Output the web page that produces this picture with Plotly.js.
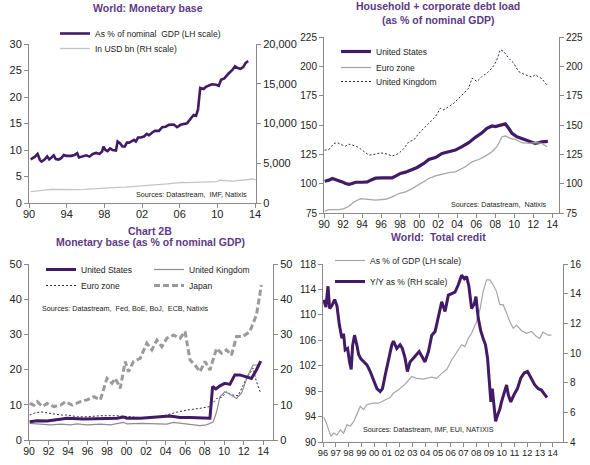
<!DOCTYPE html>
<html>
<head>
<meta charset="utf-8">
<script src="https://cdn.plot.ly/plotly-3.0.1.min.js"></script>
<style>html,body{margin:0;padding:0;background:#fff;}#chart{width:590px;height:465px;}</style>
</head>
<body>
<div id="chart"></div>
<script>
// ---------- Panel 1: World monetary base ----------
var mbYears = [1990.18,1990.63,1990.91,1991.16,1991.33,1991.68,1991.93,1992.14,1992.39,1992.63,1992.84,1993.16,1993.44,1993.69,1993.97,1994.49,1994.84,1995.12,1995.30,1995.72,1996.07,1996.42,1996.77,1997.13,1997.48,1997.76,1997.90,1998.11,1998.35,1998.60,1998.88,1999.23,1999.41,1999.65,1999.93,2000.18,2000.39,2000.64,2000.92,2001.16,2001.34,2001.58,2001.86,2002.21,2002.50,2002.74,2003.09,2003.37,2003.79,2004.15,2004.50,2004.85,2005.37,2005.72,2006.08,2006.43,2006.78,2007.20,2007.48,2007.73,2007.94,2008.18,2008.53,2008.78,2009.13,2009.41,2009.87,2010.15,2010.39,2010.74,2011.17,2011.59,2011.87,2012.11,2012.46,2012.74,2012.99,2013.27];
var mbPctGdp = [8.25,8.75,9.26,8.1,7.8,8.25,8.8,8.25,8.6,9.0,8.3,8.2,8.5,9.07,8.9,8.9,9.07,9.4,8.6,8.9,9.0,8.75,9.26,9.45,9.26,9.7,10.65,10.0,9.8,10.3,10.0,9.9,11.6,11.3,10.65,10.65,11.4,11.4,11.65,11.9,11.6,12.35,12.35,12.55,13.05,12.8,13.3,13.6,13.6,14.3,14.4,14.75,14.8,14.3,14.75,14.9,15.05,16.0,16.6,16.45,17.6,21.7,21.5,21.9,22.1,22.4,22.3,22.1,23.25,23.5,24.4,25.1,25.8,25.5,25.3,25.65,26.4,26.8];
var mbUsdYears = [1990.18,1990.9,1991.6,1992.39,1993.2,1994.14,1995.0,1995.90,1996.8,1997.65,1998.5,1999.41,2000.3,2001.16,2002.0,2002.92,2003.8,2004.67,2005.2,2005.72,2006.3,2006.78,2007.5,2008.18,2009.0,2009.94,2010.29,2011.0,2011.69,2012.4,2013.10,2013.80,2014.08];
var mbUsdBn = [1430,1500,1600,1720,1700,1640,1680,1720,1800,1890,1920,1975,2000,2060,2150,2230,2320,2400,2480,2560,2600,2560,2600,2560,2620,2690,2860,2780,2760,2850,2900,3020,2900];

// ---------- Panel 2: Household + corporate debt ----------
var debtUsYears = [1990.07,1990.52,1990.87,1991.22,1991.57,1991.92,1992.27,1992.62,1992.97,1993.32,1994.02,1994.55,1994.90,1995.42,1996.12,1997.17,1997.52,1998.04,1998.57,1999.27,1999.79,2000.49,2001.01,2001.71,2002.41,2003.11,2003.81,2004.51,2005.21,2005.91,2006.61,2007.13,2007.66,2008.01,2008.53,2009.06,2009.41,2009.76,2010.28,2010.80,2011.33,2011.85,2012.20,2012.55,2012.90,2013.53];
var debtUs = [102.1,103,104.4,103.5,102.7,101.5,100.1,99.5,100.1,101.2,101.2,101.5,103,104.7,105,105,106.4,108.7,109.8,112.1,113.8,117.2,120.6,122.3,125.8,127.2,128.6,131.5,134.9,139.5,143.4,147.2,149.2,148.6,150,150.9,147.2,142.9,140.0,138.3,136.6,135.2,134.3,134.9,135.7,136];
var debtEzYears = [1990.07,1990.52,1991.57,1992.10,1992.62,1993.15,1993.85,1994.55,1995.42,1996.47,1997.17,1997.87,1998.57,1999.27,2000.14,2001.01,2001.71,2002.41,2003.11,2003.81,2004.34,2004.86,2005.56,2006.26,2006.96,2007.66,2008.18,2008.71,2009.06,2009.58,2010.10,2010.80,2011.50,2012.20,2012.90,2013.43];
var debtEz = [76.7,77.9,77.9,78.7,80.7,84.4,87.3,86.7,85.9,86.7,88.7,91.6,93,95.8,100.1,104.4,106.7,108.1,109.5,110.1,112.1,114.4,118.6,120.6,123.5,127.2,131.5,140,140.6,138.6,137.7,134.9,134.3,134.9,134.3,131.5];
var debtUkYears = [1990.07,1990.52,1991.05,1991.40,1991.92,1992.27,1992.62,1992.97,1993.50,1994.02,1994.72,1995.42,1995.94,1996.64,1997.17,1997.87,1998.39,1998.92,1999.44,1999.97,2000.66,2001.19,2001.71,2002.24,2002.59,2003.11,2003.64,2004.16,2004.69,2005.21,2005.56,2006.08,2006.61,2007.13,2007.66,2008.11,2008.53,2008.88,2009.41,2009.93,2010.45,2011.15,2011.85,2012.20,2012.90,2013.43];
var debtUk = [128.6,129.2,134.3,134.9,132.9,132,133.7,132.9,131.5,128.6,124.3,125.2,126.3,125.2,123.5,125.8,130,135.8,137.2,142.9,148.6,152.9,157.1,164.3,162.9,165.7,168.5,172.8,177.1,181.4,189.9,187.1,191.4,194.2,198.5,204.2,214.2,212.7,207,202.8,195.6,192.8,190.8,192.8,189.4,184.2];

// ---------- Panel 3: Monetary base by country ----------
var mbUsYears = [1990.07,1990.85,1991.87,1992.89,1993.91,1995.61,1997.31,1999.01,1999.69,2000.03,2001.39,2002.41,2003.44,2004.46,2005.48,2006.50,2007.52,2008.20,2008.54,2008.81,2009.15,2009.56,2010.07,2010.58,2011.09,2011.60,2012.28,2012.79,2013.30,2013.74];
var mbUs = [5.2,5.5,5.4,5.9,6.2,6.0,6.0,6.2,6.5,6.2,6.2,6.5,6.6,6.8,6.4,6.4,6.3,6.3,6.2,15.2,14.5,15.4,16.1,15.8,18.5,18.5,18.0,17.5,19.9,22.4];
var mbUkYears = [1990.07,1991.19,1992.21,1993.23,1994.25,1994.93,1995.95,1997.31,1998.33,1999.69,2000.03,2001.39,2002.76,2004.12,2004.80,2005.82,2006.84,2007.52,2008.20,2008.88,2009.22,2009.56,2010.07,2010.58,2011.26,2011.77,2012.45,2012.96,2013.47,2013.74];
var mbUk = [4.7,4.5,4.3,4.5,4.3,4.6,4.3,4.5,4.3,5.0,4.6,4.7,4.5,4.5,5.0,4.6,4.3,4.1,4.3,5.2,8.0,12.3,13.7,13.0,11.8,13.3,18.5,21.3,21.3,22.3];
var mbEzYears = [1990.07,1990.51,1991.19,1992.21,1993.23,1993.91,1994.93,1995.95,1997.31,1999.01,2000.71,2001.73,2003.10,2004.12,2005.14,2006.16,2007.52,2008.54,2009.22,2009.73,2010.24,2010.75,2011.43,2012.28,2012.96,2013.30,2013.74];
var mbEz = [7.1,7.6,8.0,7.6,7.1,7.1,6.6,6.6,6.9,6.9,6.6,6.3,6.6,7.1,7.9,8.5,9.0,9.5,11.8,12.1,13.7,12.8,12.6,17.5,20.4,16.6,13.3];
var mbJpYears = [1990.07,1990.51,1990.85,1991.36,1991.87,1992.55,1993.23,1993.74,1994.42,1995.27,1995.95,1996.63,1997.31,1997.99,1998.50,1998.84,1999.35,1999.86,2000.20,2000.71,2001.39,2002.07,2002.59,2003.10,2003.61,2004.12,2004.80,2005.48,2005.99,2006.50,2007.01,2007.52,2008.03,2008.54,2009.22,2009.73,2010.24,2010.75,2011.26,2011.94,2012.62,2013.30,2013.81];
var mbJp = [10.4,9.9,10.9,9.5,10.4,9.5,9.9,10.9,9.9,10.9,11.4,12.3,11.4,17.5,16.1,17.5,14.7,22.3,19.4,22.3,23.2,27.5,25.6,28.4,26.5,28.9,29.8,28.9,30.8,22.7,21.3,19.4,22.3,19.9,26.0,24.6,25.6,24.1,29.4,29.4,30.8,35.5,44.0];

// ---------- Panel 4: World total credit ----------
var tcGdpYears = [1996.05,1996.23,1996.44,1996.63,1996.83,1997.09,1997.35,1997.61,1997.88,1998.14,1998.40,1998.66,1998.92,1999.18,1999.44,1999.96,2000.35,2000.74,2001.26,2001.52,2001.91,2002.43,2002.95,2003.34,2003.86,2004.52,2004.91,2005.30,2005.69,2006.08,2006.47,2006.86,2007.12,2007.38,2007.64,2008.03,2008.29,2008.55,2008.81,2009.07,2009.33,2009.59,2009.85,2010.11,2010.38,2010.64,2010.90,2011.16,2011.55,2011.94,2012.33,2012.72,2012.98,2013.24,2013.63,2013.89];
var tcGdp = [93.9,93.2,91.9,90.9,91.4,91.1,91.9,91.4,92.7,92.5,93.2,94.3,95.6,95.1,95.9,96.1,96.1,96.5,97.0,97.7,98.2,99.1,100.3,100.0,99.9,100.2,100.0,100.8,101.4,102.9,104.0,105.3,105.0,106.3,107.1,108.9,110.8,113.7,115.5,115.5,114.7,113.7,111.6,111.6,110.3,108.9,107.9,108.4,107.5,107.1,107.4,106.6,106.3,107.3,106.8,106.8];
var tcYoyYears = [1996.05,1996.23,1996.39,1996.52,1996.70,1996.91,1997.09,1997.28,1997.48,1997.61,1997.74,1997.93,1998.08,1998.21,1998.32,1998.47,1998.66,1998.79,1998.97,1999.18,1999.44,1999.70,1999.96,2000.22,2000.48,2000.66,2000.87,2001.13,2001.39,2001.52,2001.78,2002.04,2002.22,2002.43,2002.61,2002.82,2003.08,2003.34,2003.53,2003.73,2003.99,2004.26,2004.52,2004.78,2005.04,2005.30,2005.56,2005.82,2006.08,2006.34,2006.60,2006.86,2007.07,2007.25,2007.43,2007.64,2007.85,2007.98,2008.16,2008.37,2008.58,2008.73,2008.89,2009.02,2009.15,2009.26,2009.41,2009.52,2009.67,2009.85,2009.98,2010.19,2010.38,2010.51,2010.71,2010.97,2011.23,2011.49,2011.76,2012.02,2012.28,2012.59,2012.85,2013.11,2013.37,2013.55];
var tcYoy = [13.58,13.1,14.5,13.0,13.2,13.6,13.2,11.9,11.0,11.3,10.2,10.3,9.4,8.9,10.5,11.2,10.5,9.9,9.6,9.4,9.2,8.75,8.1,7.6,7.4,7.6,8.5,9.65,10.55,10.8,10.3,10.55,10.3,9.65,8.75,9.4,9.65,9.9,10.1,9.8,9.4,10.1,11.2,11.45,12.35,13.45,12.8,13.9,14.0,14.1,14.6,15.25,15.0,15.15,14.5,13.0,13.3,13.8,12.35,11.45,10.9,10.55,9.65,7.85,6.7,7.6,6.1,5.4,5.8,6.2,6.7,7.3,7.85,7.2,6.7,7.2,7.6,8.3,8.65,8.75,8.3,7.85,7.6,7.5,7.2,7.0];

// tick labels
var ticks4yVals = [1990,1994,1998,2002,2006,2010,2014];
var ticks4yText = ['90','94','98','02','06','10','14'];
var ticks2yVals = [1990,1992,1994,1996,1998,2000,2002,2004,2006,2008,2010,2012,2014];
var ticks2yText = ['90','92','94','96','98','00','02','04','06','08','10','12','14'];
var ticks1yVals = [1996,1997,1998,1999,2000,2001,2002,2003,2004,2005,2006,2007,2008,2009,2010,2011,2012,2013,2014];
var ticks1yText = ['96','97','98','99','00','01','02','03','04','05','06','07','08','09','10','11','12','13','14'];

var PURPLE = '#421a66', GREY = '#a6a6a6', LGREY = '#c4c4c4', TITLE = '#5e3a86';
var FONT = 'Liberation Sans, Arial, sans-serif';
function px(x){return x/590;} function py(y){return 1 - y/465;}

var traces = [
  {x: mbYears, y: mbPctGdp, xaxis:'x', yaxis:'y', name:'As % of nominal  GDP (LH scale)', mode:'lines', line:{color:PURPLE, width:2.6}, legend:'legend'},
  {x: mbUsdYears, y: mbUsdBn, xaxis:'x', yaxis:'y2', name:'In USD bn (RH scale)', mode:'lines', line:{color:LGREY, width:1.3}, legend:'legend2'},

  {x: debtUkYears, y: debtUk, xaxis:'x2', yaxis:'y3', name:'United Kingdom', mode:'lines', line:{color:'#3a2450', width:1, dash:'2px,2px'}, legend:'legend5'},
  {x: debtEzYears, y: debtEz, xaxis:'x2', yaxis:'y4', name:'Euro zone', mode:'lines', line:{color:GREY, width:1.3}, legend:'legend4'},
  {x: debtUsYears, y: debtUs, xaxis:'x2', yaxis:'y3', name:'United States', mode:'lines', line:{color:PURPLE, width:3.2}, legend:'legend3'},

  {x: mbJpYears, y: mbJp, xaxis:'x3', yaxis:'y6', name:'Japan', mode:'lines', line:{color:'#9a9a9a', width:3, dash:'6px,3px'}, legend:'legend9'},
  {x: mbEzYears, y: mbEz, xaxis:'x3', yaxis:'y5', name:'Euro zone', mode:'lines', line:{color:'#3a2450', width:1, dash:'2px,2px'}, legend:'legend7'},
  {x: mbUkYears, y: mbUk, xaxis:'x3', yaxis:'y5', name:'United Kingdom', mode:'lines', line:{color:'#8c8c8c', width:1.2}, legend:'legend8'},
  {x: mbUsYears, y: mbUs, xaxis:'x3', yaxis:'y5', name:'United States', mode:'lines', line:{color:PURPLE, width:3}, legend:'legend6'},

  {x: tcGdpYears, y: tcGdp, xaxis:'x4', yaxis:'y7', name:'As % of GDP (LH scale)', mode:'lines', line:{color:GREY, width:1.2}, legend:'legend10'},
  {x: tcYoyYears, y: tcYoy, xaxis:'x4', yaxis:'y8', name:'Y/Y as % (RH scale)', mode:'lines', line:{color:PURPLE, width:3}, legend:'legend11'}
];

var axBase = {showgrid:false, zeroline:false, showline:true, linecolor:'#8a8a8a', linewidth:1, ticks:'outside', ticklen:4, tickcolor:'#8a8a8a', tickfont:{family:FONT, size:11, color:'#222'}, fixedrange:true};
function ax(o){var r={}; for(var k in axBase) r[k]=axBase[k]; for(var k2 in o) r[k2]=o[k2]; return r;}
var smallTick = {family:FONT, size:10, color:'#222'};

var legBase = {bgcolor:'rgba(0,0,0,0)', borderwidth:0, font:{family:FONT, size:8.5, color:'#222'}, xanchor:'left', yanchor:'top', itemclick:false, itemdoubleclick:false};
function leg(xText, yCenter){var r={}; for(var k in legBase) r[k]=legBase[k]; r.x = px(xText - 40); r.y = py(yCenter - 14); return r;}

var titleFont = {family:FONT, size:10.5, color:TITLE};
var srcFont = {family:FONT, size:7.2, color:'#222'};

var layout = {
  width:590, height:465, margin:{l:0,r:0,t:0,b:0}, paper_bgcolor:'#fff', plot_bgcolor:'#fff',
  showlegend:true, hovermode:false, separators:'.,',
  font:{family:FONT, size:11, color:'#222'},
  // Panel 1
  xaxis: ax({domain:[px(29),px(256)], anchor:'y', range:[1990,2014.1], tickvals:ticks4yVals, ticktext:ticks4yText, tickangle:0, ticklabelstandoff:-3}),
  yaxis: ax({domain:[py(203),py(44)], anchor:'x', range:[0,30], dtick:5, tick0:0}),
  yaxis2: ax({overlaying:'y', side:'right', anchor:'x', range:[0,20000], dtick:5000, tick0:0, tickformat:',d'}),
  // Panel 2
  xaxis2: ax({domain:[px(324),px(559)], anchor:'y3', range:[1990,2014.7], tickvals:ticks2yVals, ticktext:ticks2yText, tickfont:{family:FONT,size:10.5,color:'#222'}, tickangle:0, ticklabelstandoff:-3}),
  yaxis3: ax({domain:[py(213),py(37)], anchor:'x2', range:[75,225], dtick:25, tick0:75, tickfont:smallTick}),
  yaxis4: ax({overlaying:'y3', side:'right', anchor:'x2', range:[75,225], dtick:25, tick0:75, tickfont:smallTick}),
  // Panel 3
  xaxis3: ax({domain:[px(29),px(273)], anchor:'y5', range:[1990,2015], tickvals:ticks2yVals, ticktext:ticks2yText, tickfont:{family:FONT,size:10.5,color:'#222'}, tickangle:0, ticklabelstandoff:-3}),
  yaxis5: ax({domain:[py(440),py(264)], anchor:'x3', range:[0,50], dtick:10, tick0:0}),
  yaxis6: ax({overlaying:'y5', side:'right', anchor:'x3', range:[0,50], dtick:10, tick0:0}),
  // Panel 4
  xaxis4: ax({domain:[px(323),px(563)], anchor:'y7', range:[1996,2014.8], tickvals:ticks1yVals, ticktext:ticks1yText, tickfont:{family:FONT,size:9.3,color:'#222'}, tickangle:0, ticklabelstandoff:-2}),
  yaxis7: ax({domain:[py(442),py(264)], anchor:'x4', range:[90,118], dtick:4, tick0:90, tickfont:smallTick}),
  yaxis8: ax({overlaying:'y7', side:'right', anchor:'x4', range:[4,16], dtick:2, tick0:4, tickfont:smallTick}),

  legend: leg(95, 33),
  legend2: leg(95, 48),
  legend3: leg(376, 51),
  legend4: leg(376, 67),
  legend5: leg(376, 81),
  legend6: leg(81, 269),
  legend7: leg(81, 285),
  legend8: leg(189, 269),
  legend9: leg(189, 285),
  legend10: leg(370, 260),
  legend11: leg(370, 281),

  annotations: [
    {xref:'paper', yref:'paper', x:px(148), y:py(8), xanchor:'center', yanchor:'middle', showarrow:false, text:'<b>World: Monetary base</b>', font:titleFont},
    {xref:'paper', yref:'paper', x:px(438), y:py(6), xanchor:'center', yanchor:'middle', showarrow:false, text:'<b>Household + corporate debt load</b>', font:titleFont},
    {xref:'paper', yref:'paper', x:px(438), y:py(20), xanchor:'center', yanchor:'middle', showarrow:false, text:'<b>(as % of nominal GDP)</b>', font:titleFont},
    {xref:'paper', yref:'paper', x:px(150), y:py(231), xanchor:'center', yanchor:'middle', showarrow:false, text:'<b>Chart 2B</b>', font:titleFont},
    {xref:'paper', yref:'paper', x:px(150), y:py(242), xanchor:'center', yanchor:'middle', showarrow:false, text:'<b>Monetary base (as % of nominal GDP)</b>', font:titleFont},
    {xref:'paper', yref:'paper', x:px(438), y:py(237), xanchor:'center', yanchor:'middle', showarrow:false, text:'<b>World:  Total credit</b>', font:titleFont},
    {xref:'paper', yref:'paper', x:px(249), y:py(194), xanchor:'right', yanchor:'middle', showarrow:false, text:'Sources: Datastream,  IMF, Natixis', font:srcFont},
    {xref:'paper', yref:'paper', x:px(548), y:py(204), xanchor:'right', yanchor:'middle', showarrow:false, text:'Sources: Datastream,  Natixis', font:srcFont},
    {xref:'paper', yref:'paper', x:px(40), y:py(308), xanchor:'left', yanchor:'middle', showarrow:false, text:'Sources: Datastream,  Fed, BoE, BoJ,  ECB, Natixis', font:srcFont},
    {xref:'paper', yref:'paper', x:px(361), y:py(429), xanchor:'left', yanchor:'middle', showarrow:false, text:'Sources: Datastream, IMF, EUI, NATIXIS', font:srcFont}
  ]
};

Plotly.newPlot('chart', traces, layout, {staticPlot:true, displayModeBar:false});
</script>
</body>
</html>
